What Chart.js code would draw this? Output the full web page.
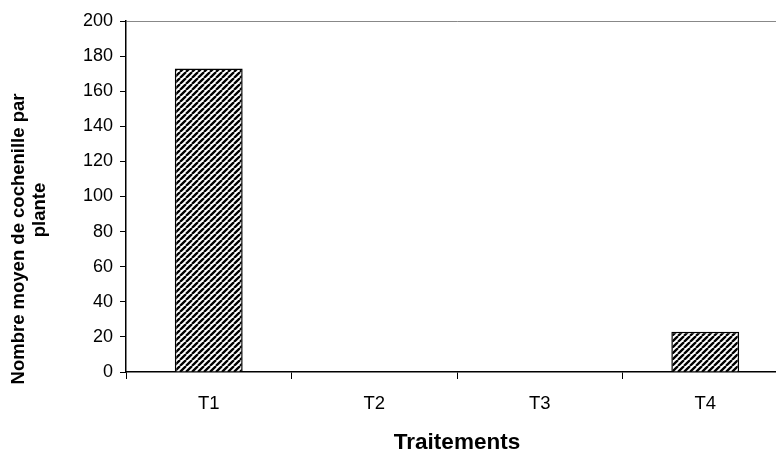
<!DOCTYPE html>
<html>
<head>
<meta charset="utf-8">
<script src="https://cdn.jsdelivr.net/npm/chart.js@4"></script>
<style>
  html, body { margin: 0; padding: 0; background: #fff; overflow: hidden; }
  #wrap { width: 792px; height: 453px; }
</style>
</head>
<body>
<div id="wrap"><canvas id="chart" width="792" height="453"></canvas></div>
<script>
const categories = ['T1', 'T2', 'T3', 'T4'];
const meanCount = [173, 0, 0, 23];
const yTicks = [0, 20, 40, 60, 80, 100, 120, 140, 160, 180, 200];
const yTitleLines = ['Nombre moyen de cochenille par', 'plante'];

// diagonal hatch like the old Excel fill
function makeHatch() {
  const size = 6;
  const c = document.createElement('canvas');
  c.width = size; c.height = size;
  const g = c.getContext('2d');
  g.fillStyle = '#fff';
  g.fillRect(0, 0, size, size);
  g.strokeStyle = '#000';
  g.lineWidth = 2.3;
  g.beginPath();
  for (let k = -1; k <= 1; k++) {
    g.moveTo(k * size, size);
    g.lineTo(k * size + size, 0);
  }
  g.stroke();
  return g.createPattern(c, 'repeat');
}

// the y title sits a bit off centre in the original, so draw it by hand
const yTitlePlugin = {
  id: 'yTitle',
  afterDraw(chart) {
    const g = chart.ctx;
    g.save();
    g.fillStyle = '#000';
    g.font = 'bold 18.5px "Liberation Sans", Arial, sans-serif';
    g.textAlign = 'center';
    g.textBaseline = 'middle';
    const spots = [[19, 239], [40, 210]];
    yTitleLines.forEach((line, i) => {
      g.save();
      g.translate(spots[i][0], spots[i][1]);
      g.rotate(-Math.PI / 2);
      g.fillText(line, 0, 0);
      g.restore();
    });
    g.restore();
  }
};

const ctx = document.getElementById('chart').getContext('2d');
new Chart(ctx, {
  type: 'bar',
  data: {
    labels: categories,
    datasets: [{
      data: meanCount,
      backgroundColor: makeHatch(),
      borderColor: '#000',
      borderWidth: 1.5,
      categoryPercentage: 1,
      barPercentage: 0.41
    }]
  },
  options: {
    responsive: false,
    animation: false,
    layout: { padding: { top: 21, right: 4, left: 0, bottom: 0 } },
    plugins: { legend: { display: false }, tooltip: { enabled: false } },
    scales: {
      x: {
        grid: { drawOnChartArea: false, color: '#000', tickLength: 7, offset: true },
        border: { color: '#000', width: 1.5 },
        ticks: { color: '#000', font: { family: 'Liberation Sans', size: 18.5 }, padding: 14 },
        title: {
          display: true, text: 'Traitements', color: '#000',
          font: { family: 'Liberation Sans', size: 22.5, weight: 'bold' },
          padding: { top: 0, bottom: -3 }
        },
        afterFit: s => { s.height = 81; }
      },
      y: {
        min: 0, max: 200,
        afterBuildTicks: s => { s.ticks = yTicks.map(v => ({ value: v })); },
        grid: {
          color: c => c.tick && c.tick.value === 200 ? '#888' : 'rgba(0,0,0,0)',
          tickColor: '#000',
          tickLength: 6
        },
        border: { color: '#000', width: 1.5 },
        ticks: { color: '#000', font: { family: 'Liberation Sans', size: 18 }, padding: 7 },
        afterFit: s => { s.width = 126; }
      }
    }
  },
  plugins: [yTitlePlugin]
});
</script>
</body>
</html>
